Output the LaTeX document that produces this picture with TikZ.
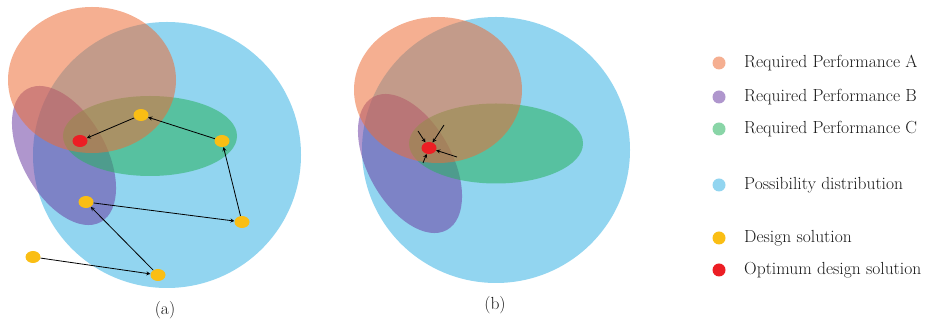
\documentclass[tikz,border=0pt]{standalone}
\usetikzlibrary{shapes.geometric}
\definecolor{perfA}{RGB}{236,109,55}
\definecolor{perfB}{RGB}{109,64,164}
\definecolor{perfC}{RGB}{40,178,95}
\definecolor{possib}{RGB}{146,213,240}
\definecolor{solyel}{RGB}{250,190,20}
\definecolor{optred}{RGB}{236,30,36}
\begin{document}
\begin{tikzpicture}[x=1pt, y=1pt, >=stealth,
    region/.style={fill opacity=0.55},
    sol/.style={ellipse, fill=solyel, minimum width=15pt, minimum height=12pt, inner sep=0pt},
    opt/.style={ellipse, fill=optred, minimum width=15pt, minimum height=12pt, inner sep=0pt},
    legdot/.style={circle, minimum size=13pt, inner sep=0pt},
    legtext/.style={anchor=west, inner sep=0pt, text=black!90, font=\fontsize{17.5}{20}\selectfont}]
    \useasboundingbox (0,0) rectangle (937,323);

    % (a)
    \fill[possib] (167,168) ellipse [x radius=134, y radius=133];
    \fill[perfB, region, rotate around={29:(64,167.5)}] (64,167.5) ellipse [x radius=42, y radius=76];
    \fill[perfC, region] (150,187) ellipse [x radius=87, y radius=40];
    \fill[perfA, region] (92,243) ellipse [x radius=84, y radius=73];

    \node[sol] (s1) at (141,208) {};
    \node[sol] (s2) at (222,182) {};
    \node[sol] (s3) at (242,101) {};
    \node[sol] (s4) at (86,121) {};
    \node[sol] (s5) at (158,48) {};
    \node[sol] (s6) at (33,66) {};
    \node[opt] (opta) at (80,182) {};
    \draw[->, thick] (s6) -- (s5);
    \draw[->, thick] (s5) -- (s4);
    \draw[->, thick] (s4) -- (s3);
    \draw[->, thick] (s3) -- (s2);
    \draw[->, thick] (s2) -- (s1);
    \draw[->, thick] (s1) -- (opta);
    \node[legtext, anchor=center] (capa) at (165,13) {(a)};

    % (b)
    \fill[possib] (496,173) ellipse [x radius=134, y radius=133];
    \fill[perfB, region, rotate around={29:(410,159.5)}] (410,159.5) ellipse [x radius=42, y radius=76];
    \fill[perfC, region] (496,179.5) ellipse [x radius=87, y radius=40];
    \fill[perfA, region] (438,233) ellipse [x radius=84, y radius=73];

    \node[opt] (optb) at (429,175) {};
    \coordinate (t1) at (444,198);
    \coordinate (t2) at (418,192);
    \coordinate (t3) at (457,166);
    \coordinate (t4) at (423,160);
    \foreach \t in {t1,t2,t3,t4}
        \draw[->, thick] (\t) -- (optb);
    \node[legtext, anchor=center] (capb) at (495,18) {(b)};

    % legend
    \node[legdot, fill=perfA, region] (la) at (719,260) {};
    \node[legdot, fill=perfB, region] (lb) at (719,226) {};
    \node[legdot, fill=perfC, region] (lc) at (719,194) {};
    \node[legdot, fill=possib] (lp) at (719,138) {};
    \node[legdot, fill=solyel] (ls) at (719,85) {};
    \node[legdot, fill=optred] (lo) at (719,53) {};
    \node[legtext] at (744,260) {Required Performance A};
    \node[legtext] at (744,226) {Required Performance B};
    \node[legtext] at (744,194) {Required Performance C};
    \node[legtext] at (744,138) {Possibility distribution};
    \node[legtext] at (744,85) {Design solution};
    \node[legtext] at (744,53) {Optimum design solution};
\end{tikzpicture}
\end{document}
